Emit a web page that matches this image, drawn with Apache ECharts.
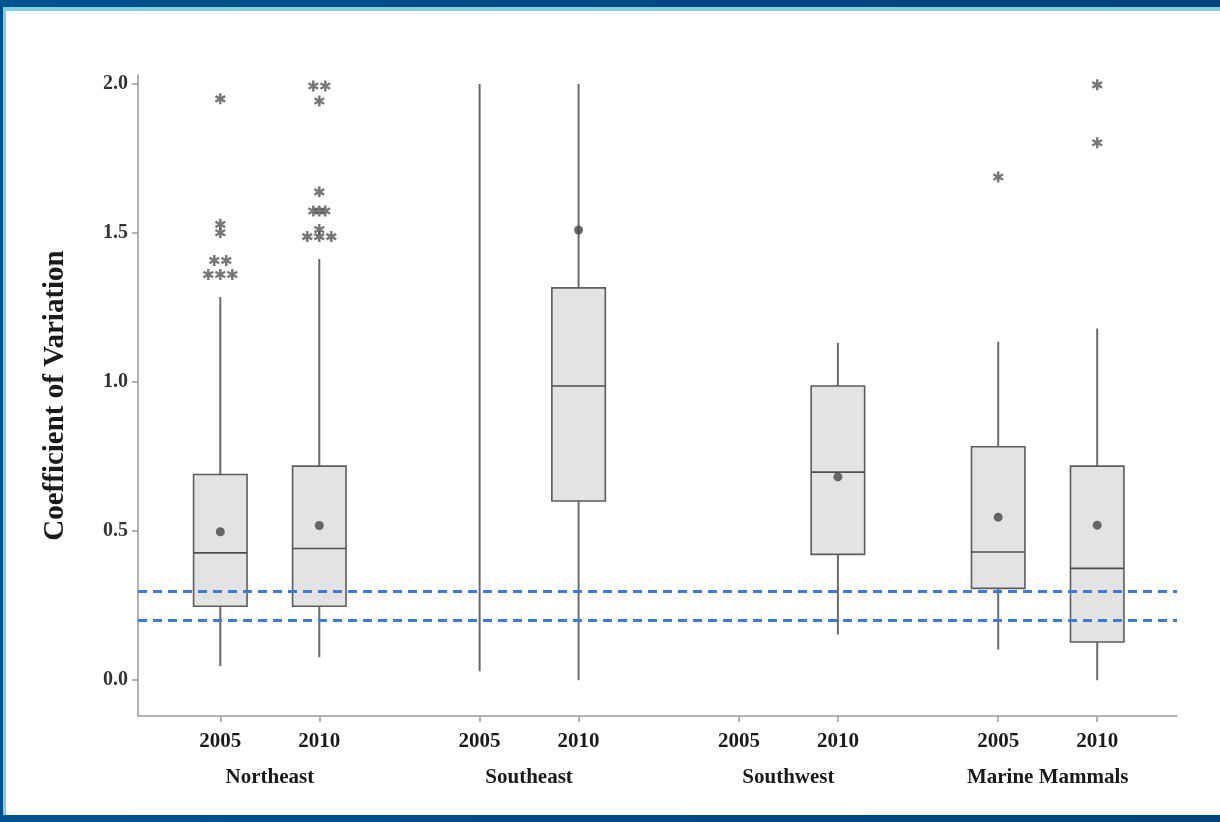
<!DOCTYPE html>
<html>
<head>
<meta charset="utf-8">
<script src="https://cdn.jsdelivr.net/npm/echarts@6/dist/echarts.min.js"></script>
<style>
  html, body { margin: 0; padding: 0; background: #004a86; }
  #chart { width: 1220px; height: 822px; }
</style>
</head>
<body>
<div id="chart"></div>
<script>
// ---------------- DATA ----------------
const regions = ['Northeast', 'Southeast', 'Southwest', 'Marine Mammals'];
const years = ['2005', '2010'];
const yTicks = [0, 0.5, 1.0, 1.5, 2.0];
const thresholds = [0.2, 0.3];

// per year: [low whisker, Q1, median, Q3, high whisker]  (null = not shown)
const boxNortheast = [[0.047, 0.248, 0.427, 0.690, 1.285], [0.077, 0.248, 0.442, 0.718, 1.413]];
const boxSoutheast = [[0.03, null, null, null, 2.0], [0.0, 0.601, 0.987, 1.316, 2.0]];
const boxSouthwest = [null, [0.153, 0.422, 0.698, 0.987, 1.132]];
const boxMarine = [[0.103, 0.308, 0.430, 0.783, 1.135], [0.0, 0.128, 0.375, 0.718, 1.180]];

// means per year (null = none)
const meanNortheast = [0.498, 0.519];
const meanSoutheast = [null, 1.510];
const meanSouthwest = [null, 0.682];
const meanMarine = [0.547, 0.520];

// outliers: [year index, value, side-by-side slot]
const outNortheast = [
  [0, 1.950, 0], [0, 1.529, 0], [0, 1.501, 0],
  [0, 1.408, -0.5], [0, 1.408, 0.5],
  [0, 1.361, -1], [0, 1.361, 0], [0, 1.361, 1],
  [1, 1.993, -0.5], [1, 1.993, 0.5], [1, 1.943, 0],
  [1, 1.638, 0],
  [1, 1.574, -0.5], [1, 1.574, 0], [1, 1.574, 0.5],
  [1, 1.512, 0],
  [1, 1.488, -1], [1, 1.488, 0], [1, 1.488, 1]
];
const outSoutheast = [];
const outSouthwest = [];
const outMarine = [[0, 1.688, 0], [1, 1.997, 0], [1, 1.803, 0]];

const boxes = [boxNortheast, boxSoutheast, boxSouthwest, boxMarine];
const means = [meanNortheast, meanSoutheast, meanSouthwest, meanMarine];
const outliers = [outNortheast, outSoutheast, outSouthwest, outMarine];

// ---------------- LAYOUT / STYLE ----------------
const W = 1220, H = 822;
const PLOT_LEFT = 138, PLOT_RIGHT = 1177, PLOT_TOP = 75, PLOT_BOTTOM = 716;
const Y_MIN = -0.12, Y_MAX = 2.03;
const FIRST_CENTER = 269.8, REGION_STEP = 259.3, REGION_W = 198;
const BOX_FRAC = 0.54;
const SLOT_PX = 12;
const FONT = 'Liberation Serif';
const ASTERISK = 'path://M-1.1,-5L1.1,-5L1.1,5L-1.1,5Z M3.78,-3.45L4.88,-1.55L-3.78,3.45L-4.88,1.55Z M-4.88,-1.55L-3.78,-3.45L4.88,1.55L3.78,3.45Z';

function renderBox(params, api) {
  const xi = api.value(0);
  const lo = api.value(1), q1 = api.value(2), med = api.value(3), q3 = api.value(4), hi = api.value(5);
  const bw = api.size([1, 0])[0] * BOX_FRAC;
  const pLo = api.coord([xi, lo]);
  const pHi = api.coord([xi, hi]);
  const children = [{
    type: 'line',
    shape: { x1: pLo[0], y1: pLo[1], x2: pHi[0], y2: pHi[1] },
    style: { stroke: '#6a6a6a', lineWidth: 2 }
  }];
  if (!isNaN(q1) && !isNaN(q3)) {
    const p1 = api.coord([xi, q1]);
    const p3 = api.coord([xi, q3]);
    const pm = api.coord([xi, med]);
    children.push({
      type: 'rect',
      shape: { x: p3[0] - bw / 2, y: p3[1], width: bw, height: p1[1] - p3[1] },
      style: { fill: '#e3e3e3', stroke: '#5c5c5c', lineWidth: 1.6 }
    });
    children.push({
      type: 'line',
      shape: { x1: pm[0] - bw / 2, y1: pm[1], x2: pm[0] + bw / 2, y2: pm[1] },
      style: { stroke: '#4e4e4e', lineWidth: 1.6 }
    });
  }
  return { type: 'group', children };
}

const grids = [{ left: PLOT_LEFT, width: PLOT_RIGHT - PLOT_LEFT, top: PLOT_TOP, height: PLOT_BOTTOM - PLOT_TOP }];
const xAxes = [{
  gridIndex: 0, type: 'value', min: 0, max: 1,
  axisLine: { show: true, onZero: false, lineStyle: { color: '#9a9a9a', width: 1.5 } },
  axisTick: { show: false }, axisLabel: { show: false }, splitLine: { show: false }
}];
const yAxes = [{
  gridIndex: 0, type: 'value', min: Y_MIN, max: Y_MAX,
  name: 'Coefficient of Variation', nameLocation: 'middle', nameGap: 68,
  nameTextStyle: { fontFamily: FONT, fontWeight: 'bold', fontSize: 29, color: '#1a1a1a' },
  axisLine: { show: true, onZero: false, lineStyle: { color: '#9a9a9a', width: 1.5 } },
  axisTick: { show: true, customValues: yTicks, length: 6, lineStyle: { color: '#9a9a9a', width: 1.5 } },
  axisLabel: {
    customValues: yTicks, margin: 10,
    formatter: v => Number(v).toFixed(1),
    fontFamily: FONT, fontWeight: 'bold', fontSize: 20, color: '#333'
  },
  splitLine: { show: false }
}];
const series = [{
  type: 'line', xAxisIndex: 0, yAxisIndex: 0, data: [], z: 1, silent: true,
  markLine: {
    silent: true, symbol: ['none', 'none'], label: { show: false },
    lineStyle: { color: '#3f7ad6', width: 3, type: [9, 6] },
    data: thresholds.map(t => ({ yAxis: t }))
  }
}];

regions.forEach((name, r) => {
  const gi = r + 1;
  const center = FIRST_CENTER + r * REGION_STEP;
  grids.push({ left: center - REGION_W / 2, width: REGION_W, top: PLOT_TOP, height: PLOT_BOTTOM - PLOT_TOP });
  xAxes.push({
    gridIndex: gi, type: 'category', data: years, boundaryGap: true, position: 'bottom',
    name: name, nameLocation: 'middle', nameGap: 51,
    nameTextStyle: { fontFamily: FONT, fontWeight: 'bold', fontSize: 21, color: '#1a1a1a' },
    axisLine: { show: false, onZero: false },
    axisTick: { show: true, alignWithLabel: true, length: 6, lineStyle: { color: '#9a9a9a', width: 1.5 } },
    axisLabel: { interval: 0, margin: 15, fontFamily: FONT, fontWeight: 'bold', fontSize: 21, color: '#1a1a1a' },
    splitLine: { show: false }
  });
  yAxes.push({ gridIndex: gi, type: 'value', min: Y_MIN, max: Y_MAX, show: false });

  const boxData = [];
  boxes[r].forEach((b, yi) => { if (b) boxData.push([yi, ...b]); });
  series.push({
    type: 'custom', xAxisIndex: gi, yAxisIndex: gi, z: 3,
    renderItem: renderBox, encode: { x: 0, y: [1, 2, 3, 4, 5] },
    data: boxData
  });
  const meanData = [];
  means[r].forEach((m, yi) => { if (m !== null) meanData.push([yi, m]); });
  series.push({
    type: 'scatter', xAxisIndex: gi, yAxisIndex: gi, z: 4,
    symbol: 'circle', symbolSize: 9, itemStyle: { color: '#454545' },
    data: meanData
  });
  series.push({
    type: 'scatter', xAxisIndex: gi, yAxisIndex: gi, z: 4, clip: false,
    symbol: ASTERISK, symbolSize: 11, itemStyle: { color: '#555555' },
    data: outliers[r].map(o => ({ value: [o[0], o[1]], symbolOffset: [o[2] * SLOT_PX, 0] }))
  });
});

const chart = echarts.init(document.getElementById('chart'), null, { renderer: 'canvas' });
chart.setOption({
  animation: false,
  backgroundColor: 'transparent',
  graphic: [
    { type: 'rect', z: -100, silent: true, shape: { x: 0, y: 0, width: W, height: H },
      style: { fill: { type: 'linear', x: 0, y: 0, x2: 1, y2: 0, colorStops: [{ offset: 0, color: '#005291' }, { offset: 1, color: '#00437d' }] } } },
    { type: 'rect', z: -99, silent: true, shape: { x: 3, y: 7, width: W - 3, height: H - 14 }, style: { fill: '#82cfdb' } },
    { type: 'rect', z: -98, silent: true, shape: { x: 6, y: 11, width: W - 6, height: H - 18 }, style: { fill: '#ffffff' } }
  ],
  grid: grids,
  xAxis: xAxes,
  yAxis: yAxes,
  series: series
});
</script>
</body>
</html>
